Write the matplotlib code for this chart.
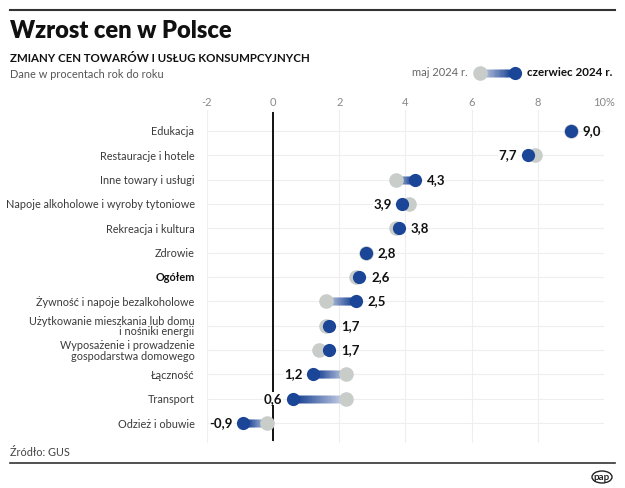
import numpy as np
import matplotlib
matplotlib.use('Agg')
import matplotlib.pyplot as plt
from matplotlib.collections import LineCollection
from matplotlib.colors import to_rgb
from matplotlib.patches import Ellipse

plt.rcParams['font.family'] = ['Lato', 'DejaVu Sans']

# dane (GUS, r/r w %)
categories = [
    'Edukacja',
    'Restauracje i hotele',
    'Inne towary i usługi',
    'Napoje alkoholowe i wyroby tytoniowe',
    'Rekreacja i kultura',
    'Zdrowie',
    'Ogółem',
    'Żywność i napoje bezalkoholowe',
    'Użytkowanie mieszkania lub domu\ni nośniki energii',
    'Wyposażenie i prowadzenie\ngospodarstwa domowego',
    'Łączność',
    'Transport',
    'Odzież i obuwie',
]
may_2024 = [9.0, 7.9, 3.7, 4.1, 3.7, 2.8, 2.5, 1.6, 1.6, 1.4, 2.2, 2.2, -0.2]
june_2024 = [9.0, 7.7, 4.3, 3.9, 3.8, 2.8, 2.6, 2.5, 1.7, 1.7, 1.2, 0.6, -0.9]
x_ticks = [-2, 0, 2, 4, 6, 8, 10]
x_ticklabels = ['-2', '0', '2', '4', '6', '8', '10%']

BLUE = '#1b4596'
GREY = '#c8cdca'
FADE = '#dfe2ef'
TXT = '#3a3a3a'

fig = plt.figure(figsize=(6.25, 4.88), dpi=100)
W, H = 625, 488


def fx(px):
    return px / W


def fy(py):
    return 1 - py / H


ax = fig.add_axes([fx(207), fy(443), fx(604) - fx(207), fy(110) - fy(443)])
n = len(categories)
ys = np.arange(n)

ax.set_xlim(-2, 10)
ax.set_ylim(n - 1 + 0.82, -0.86)

# siatka
for x in x_ticks:
    ax.axvline(x, color='#eeeeee', lw=0.8, zorder=0)
for y in ys:
    ax.axhline(y, color='#eeeeee', lw=0.8, zorder=0)
ax.plot([0, 0], [n - 1 + 0.7, -0.75], color='#111111', lw=1.4, zorder=1)

b = np.array(to_rgb(BLUE))
f = np.array(to_rgb(FADE))

for i in range(n):
    m, j = may_2024[i], june_2024[i]
    # gradient od maja do czerwca
    if m != j:
        xs = np.linspace(m, j, 40)
        segs = [[(xs[k], i), (xs[k + 1], i)] for k in range(len(xs) - 1)]
        t = np.linspace(0, 1, len(segs))[:, None]
        cols = f * (1 - t) + b * t
        lc = LineCollection(segs, colors=cols, linewidths=5.2, capstyle='projecting', zorder=2)
        ax.add_collection(lc)
    ax.plot(m, i, 'o', ms=10.5, color=GREY, mec='none', zorder=3)
    ax.plot(j, i, 'o', ms=9.5, color=BLUE, mec='none', zorder=4)
    lab = f'{j:.1f}'.replace('.', ',')
    if j >= m:
        ax.annotate(lab, (j, i), xytext=(8.6, 0), textcoords='offset points',
                    ha='left', va='center', fontsize=9.5, fontweight='bold', color='#111111',
                    zorder=5)
    else:
        ax.annotate(lab, (j, i), xytext=(-7.5, 0), textcoords='offset points',
                    ha='right', va='center', fontsize=9.5, fontweight='bold', color='#111111',
                    zorder=5, bbox=dict(fc='white', ec='none', pad=0.5))

ax.set_xticks(x_ticks)
ax.set_xticklabels(x_ticklabels)
ax.xaxis.tick_top()
ax.tick_params(axis='x', length=0, pad=1.5, labelsize=8, labelcolor='#888888')
ax.set_yticks(ys)
ax.set_yticklabels(categories, linespacing=0.95)
ax.tick_params(axis='y', length=0, pad=9, labelsize=7.8, labelcolor=TXT)
for t in ax.get_yticklabels():
    if t.get_text() == 'Ogółem':
        t.set_fontweight('bold')
        t.set_color('#111111')
for s in ax.spines.values():
    s.set_visible(False)

# nagłówek
fig.add_artist(plt.Line2D([fx(10), fx(615)], [fy(10), fy(10)], color='#333333', lw=1.5))
fig.text(fx(10), fy(31), 'Wzrost cen w Polsce', fontsize=17, fontweight='heavy',
         va='center', ha='left', color='#111111')
fig.text(fx(10), fy(58), 'ZMIANY CEN TOWARÓW I USŁUG KONSUMPCYJNYCH', fontsize=8.3,
         fontweight='bold', va='center', ha='left', color='#111111')
fig.text(fx(10), fy(74), 'Dane w procentach rok do roku', fontsize=7.9,
         va='center', ha='left', color='#555555')

# legenda
fig.text(fx(468), fy(73), 'maj 2024 r.', fontsize=8, va='center', ha='right', color='#666666')
lx = np.linspace(fx(480), fx(515), 30)
lsegs = [[(lx[k], fy(73)), (lx[k + 1], fy(73))] for k in range(len(lx) - 1)]
tt = np.linspace(0, 1, len(lsegs))[:, None]
fig.add_artist(LineCollection(lsegs, colors=f * (1 - tt) + b * tt, linewidths=5.2,
                              capstyle='projecting', transform=fig.transFigure))
fig.add_artist(plt.Line2D([fx(480)], [fy(73)], marker='o', ms=10.5, color=GREY, mec='none'))
fig.add_artist(plt.Line2D([fx(515)], [fy(73)], marker='o', ms=9.5, color=BLUE, mec='none'))
fig.text(fx(527), fy(73), 'czerwiec 2024 r.', fontsize=8.4, fontweight='bold',
         va='center', ha='left', color='#111111')

# stopka
fig.add_artist(plt.Line2D([fx(10), fx(615)], [fy(463), fy(463)], color='#333333', lw=1.2))
fig.text(fx(10), fy(453), 'Źródło: GUS', fontsize=7.8, va='center', ha='left', color='#444444')
fig.add_artist(Ellipse((fx(602), fy(477)), fx(20), 12 / H, transform=fig.transFigure,
                       fc='white', ec='#222222', lw=1.0))
fig.text(fx(602), fy(477), 'pap', fontsize=7, fontweight='bold', va='center', ha='center',
         color='#222222')

fig.savefig('out.png', dpi=100)
